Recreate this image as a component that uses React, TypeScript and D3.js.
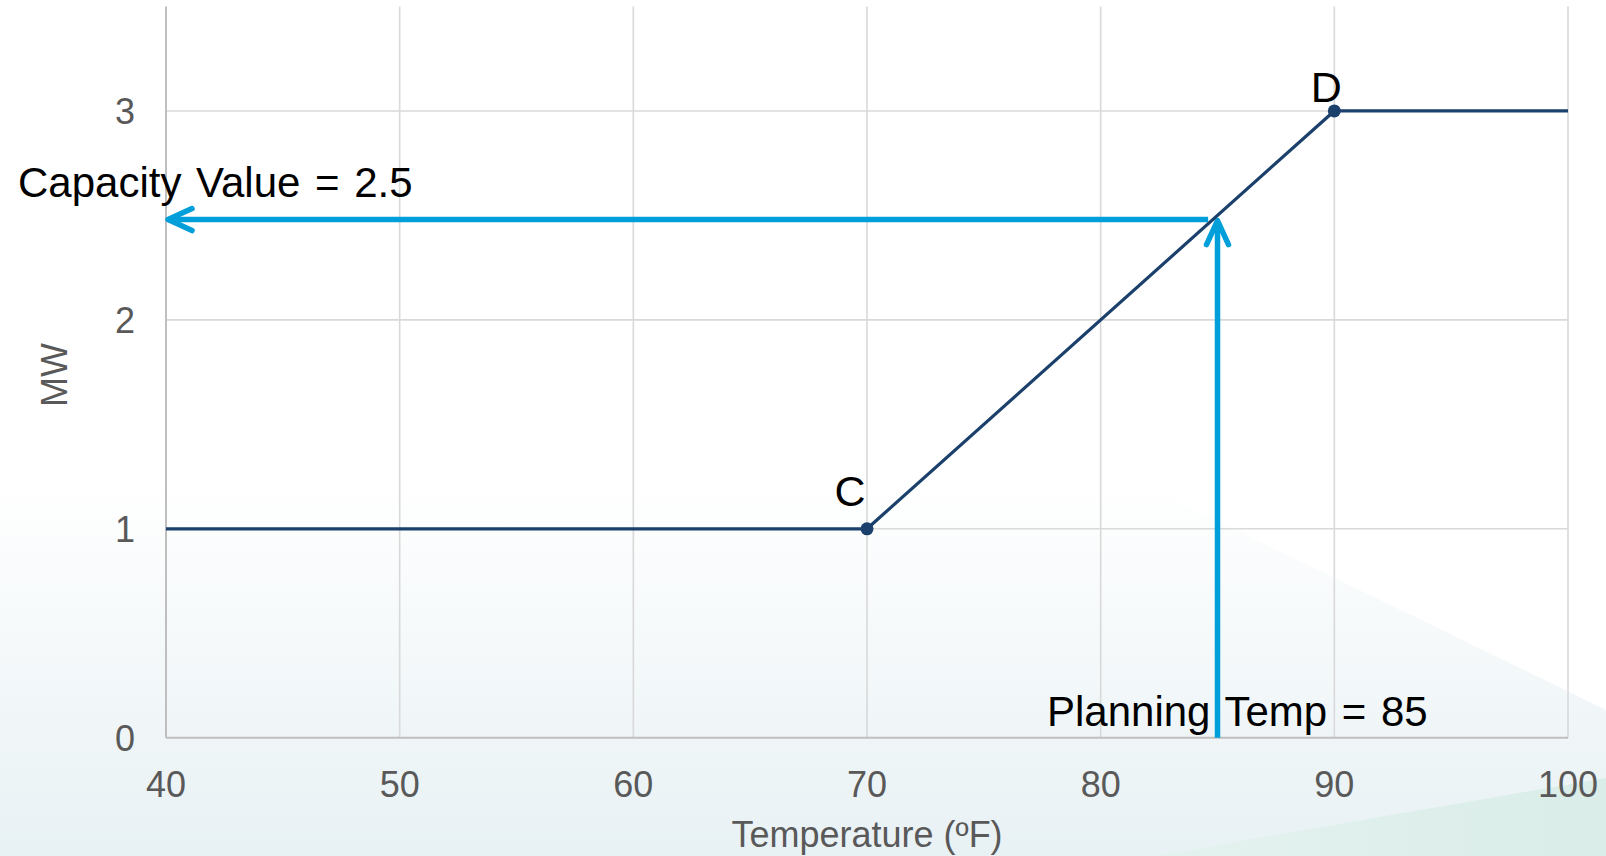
import { scaleLinear, line } from 'd3';

const xTicks = [40, 50, 60, 70, 80, 90, 100];
const yTicks = [0, 1, 2, 3];
const curveTemps = [40, 70, 90, 100];
const curveMW = [1, 1, 3, 3];
const markedPoints = [
  { label: 'C', temp: 70, mw: 1 },
  { label: 'D', temp: 90, mw: 3 },
];
const planningTemp = 85;
const capacityValue = 2.5;
const arrowMW = 2.48;
const arrowStopTemp = 84.6;

const W = 1606;
const H = 856;
const FONT = '"Liberation Sans", Arial, sans-serif';

export default function App() {
  const x = scaleLinear().domain([40, 100]).range([166, 1568]);
  const y = scaleLinear().domain([0, 3.5]).range([737.7, 6.5]);

  const pts: Array<[number, number]> = curveTemps.map((t, i) => [x(t), y(curveMW[i])]);
  const curve = line()(pts) ?? '';

  const ay = y(arrowMW);
  const hx0 = x(40) + 2;
  const hx1 = x(arrowStopTemp);
  const vx = x(planningTemp);
  const vy0 = y(0);

  return (
    <svg width={W} height={H} style={{ position: 'absolute', left: 0, top: 0 }} fontFamily={FONT}>
      <defs>
        <linearGradient id="bg" x1="0" y1="0" x2="0" y2="1">
          <stop offset="0" stopColor="#ffffff" />
          <stop offset="0.56" stopColor="#ffffff" />
          <stop offset="1" stopColor="#e8f1f4" />
        </linearGradient>
        <linearGradient id="green" x1="0" y1="0" x2="1" y2="0">
          <stop offset="0" stopColor="#e4f2ef" />
          <stop offset="1" stopColor="#daede8" />
        </linearGradient>
      </defs>
      <rect x={0} y={0} width={W} height={H} fill="url(#bg)" />
      <polygon points="1134,480 1606,710 1606,0 1134,0" fill="#ffffff" />
      <polygon points="1155,856 1606,778 1606,856" fill="url(#green)" />

      {/* grid */}
      {xTicks.slice(1).map((t) => (
        <line key={'gx' + t} x1={x(t)} x2={x(t)} y1={y(3.5)} y2={y(0)} stroke="#d9d9d9" strokeWidth={1.6} />
      ))}
      {yTicks.slice(1).map((v) => (
        <line key={'gy' + v} x1={x(40)} x2={x(100)} y1={y(v)} y2={y(v)} stroke="#d9d9d9" strokeWidth={1.6} />
      ))}
      {/* axes */}
      <line x1={x(40)} x2={x(40)} y1={y(3.5)} y2={y(0)} stroke="#bfbfbf" strokeWidth={2} />
      <line x1={x(40)} x2={x(100)} y1={y(0)} y2={y(0)} stroke="#bfbfbf" strokeWidth={2} />

      {/* tick labels */}
      {yTicks.map((v) => (
        <text key={'ty' + v} x={135} y={y(v) + 13} textAnchor="end" fontSize={36} fill="#595959">
          {v}
        </text>
      ))}
      {xTicks.map((t) => (
        <text key={'tx' + t} x={x(t)} y={797} textAnchor="middle" fontSize={36} fill="#595959">
          {t}
        </text>
      ))}
      <text x={867} y={847} textAnchor="middle" fontSize={36} fill="#595959">
        Temperature (ºF)
      </text>
      <text transform="translate(67,375) rotate(-90)" textAnchor="middle" fontSize={36} fill="#595959">
        MW
      </text>

      {/* blue arrows */}
      <g stroke="#009fda" strokeWidth={5.5} fill="none" strokeLinecap="round" strokeLinejoin="round">
        <line x1={hx1} x2={hx0} y1={ay} y2={ay} strokeLinecap="butt" />
        <path d={`M${hx0 + 24},${ay - 11} L${hx0},${ay} L${hx0 + 24},${ay + 11}`} />
        <line x1={vx} x2={vx} y1={vy0} y2={ay + 2} strokeLinecap="butt" />
        <path d={`M${vx - 11},${ay + 25} L${vx},${ay + 1} L${vx + 11},${ay + 25}`} />
      </g>

      {/* curve */}
      <path d={curve} fill="none" stroke="#1b406b" strokeWidth={3.2} />
      {markedPoints.map((p) => (
        <circle key={p.label} cx={x(p.temp)} cy={y(p.mw)} r={6.5} fill="#1b406b" />
      ))}
      <text x={x(70) - 17} y={y(1) - 23} textAnchor="middle" fontSize={43} fill="#000">
        {markedPoints[0].label}
      </text>
      <text x={x(90) - 8} y={y(3) - 9} textAnchor="middle" fontSize={43} fill="#000">
        {markedPoints[1].label}
      </text>

      {/* annotations */}
      <text x={18} y={197} fontSize={42} wordSpacing={3} fill="#000">
        Capacity Value = {capacityValue}
      </text>
      <text x={1047} y={726} fontSize={42} wordSpacing={3} fill="#000">
        Planning Temp = {planningTemp}
      </text>
    </svg>
  );
}
